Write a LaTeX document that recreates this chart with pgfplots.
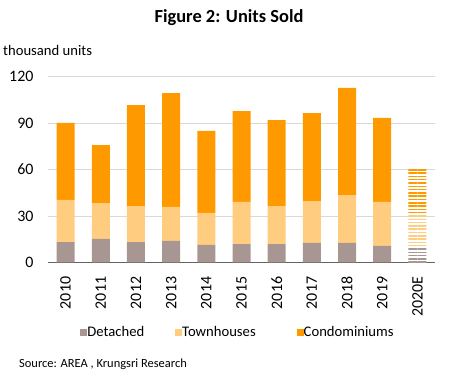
\documentclass[border=0pt]{standalone}
\usepackage{fontspec}
\setmainfont{Carlito}
\usepackage{pgfplots}
\pgfplotsset{compat=1.18}
\usetikzlibrary{patterns.meta}
\definecolor{det}{RGB}{168,150,146}
\definecolor{town}{RGB}{255,204,128}
\definecolor{condo}{RGB}{255,153,0}
\definecolor{gridc}{RGB}{217,217,217}
\definecolor{axc}{RGB}{100,100,100}
\newcommand{\tickfont}{\fontsize{16}{19}\selectfont}
\begin{document}
\begin{tikzpicture}[x=1bp,y=1bp]
\path[use as bounding box] (0,0) rectangle (451,381);
\node[font=\bfseries\fontsize{18.5}{22}\selectfont, inner sep=0pt] at (229,363) {Figure 2: Units Sold};
\node[anchor=west, font=\fontsize{14.7}{17}\selectfont, inner sep=0pt] at (3,331) {thousand units};
\node[anchor=west, font=\fontsize{12.5}{15}\selectfont, inner sep=0pt] at (19,17) {Source: AREA , Krungsri Research};
\begin{axis}[
  at={(48bp,118.7bp)}, anchor=south west,
  scale only axis, width=387bp, height=185.6bp,
  xmin=-0.5, xmax=10.5, ymin=0, ymax=120,
  ybar stacked, bar width=18bp,
  axis lines*=left,
  y axis line style={draw=none},
  x axis line style={draw=axc, line width=1bp},
  major tick length=0pt,
  ytick={0,30,60,90,120},
  ymajorgrids, grid style={draw=gridc, line width=0.8bp},
  xtick={0,...,10},
  xticklabels={2010,2011,2012,2013,2014,2015,2016,2017,2018,2019,2020E},
  xticklabel style={rotate=90, anchor=east, font=\tickfont},
  yticklabel style={font=\tickfont},
  xticklabel shift=11bp,
  yticklabel shift=11bp,
  /pgf/number format/assume math mode=true,
  legend style={at={(0.491,-0.3755)}, anchor=center, draw=none, fill=none,
    legend columns=3, font=\fontsize{14.7}{17}\selectfont,
    /tikz/every odd column/.append style={column sep=-2bp},
    /tikz/column 2/.append style={column sep=29bp},
    /tikz/column 4/.append style={column sep=39bp},
    legend cell align=left},
  legend image code/.code={\fill[#1] (0bp,-3.5bp) rectangle (7bp,3.5bp);},
]
\addplot[fill=det, draw=none] coordinates {(0,13.1) (1,15.1) (2,13.1) (3,13.8) (4,11.2) (5,11.8) (6,11.8) (7,12.5) (8,12.5) (9,10.6) (10,0)};
\addplot[fill=town, draw=none] coordinates {(0,27.2) (1,23.2) (2,23.3) (3,22.0) (4,20.7) (5,27.2) (6,24.6) (7,27.1) (8,31.0) (9,28.4) (10,0)};
\addplot[fill=condo, draw=none] coordinates {(0,49.8) (1,37.5) (2,65.3) (3,73.6) (4,53.0) (5,58.8) (6,55.6) (7,56.9) (8,69.2) (9,54.3) (10,0)};
\addplot[forget plot, draw=none, pattern={Lines[angle=0,distance=3.3bp,line width=1.5bp]}, pattern color=det] coordinates {(0,0) (1,0) (2,0) (3,0) (4,0) (5,0) (6,0) (7,0) (8,0) (9,0) (10,9.3)};
\addplot[forget plot, draw=none, pattern={Lines[angle=0,distance=3.3bp,line width=1.5bp]}, pattern color=town] coordinates {(0,0) (1,0) (2,0) (3,0) (4,0) (5,0) (6,0) (7,0) (8,0) (9,0) (10,21.3)};
\addplot[forget plot, draw=none, pattern={Lines[angle=0,distance=3.3bp,line width=1.5bp]}, pattern color=condo] coordinates {(0,0) (1,0) (2,0) (3,0) (4,0) (5,0) (6,0) (7,0) (8,0) (9,0) (10,30.4)};
\legend{Detached, Townhouses, Condominiums}
\end{axis}
\end{tikzpicture}
\end{document}
